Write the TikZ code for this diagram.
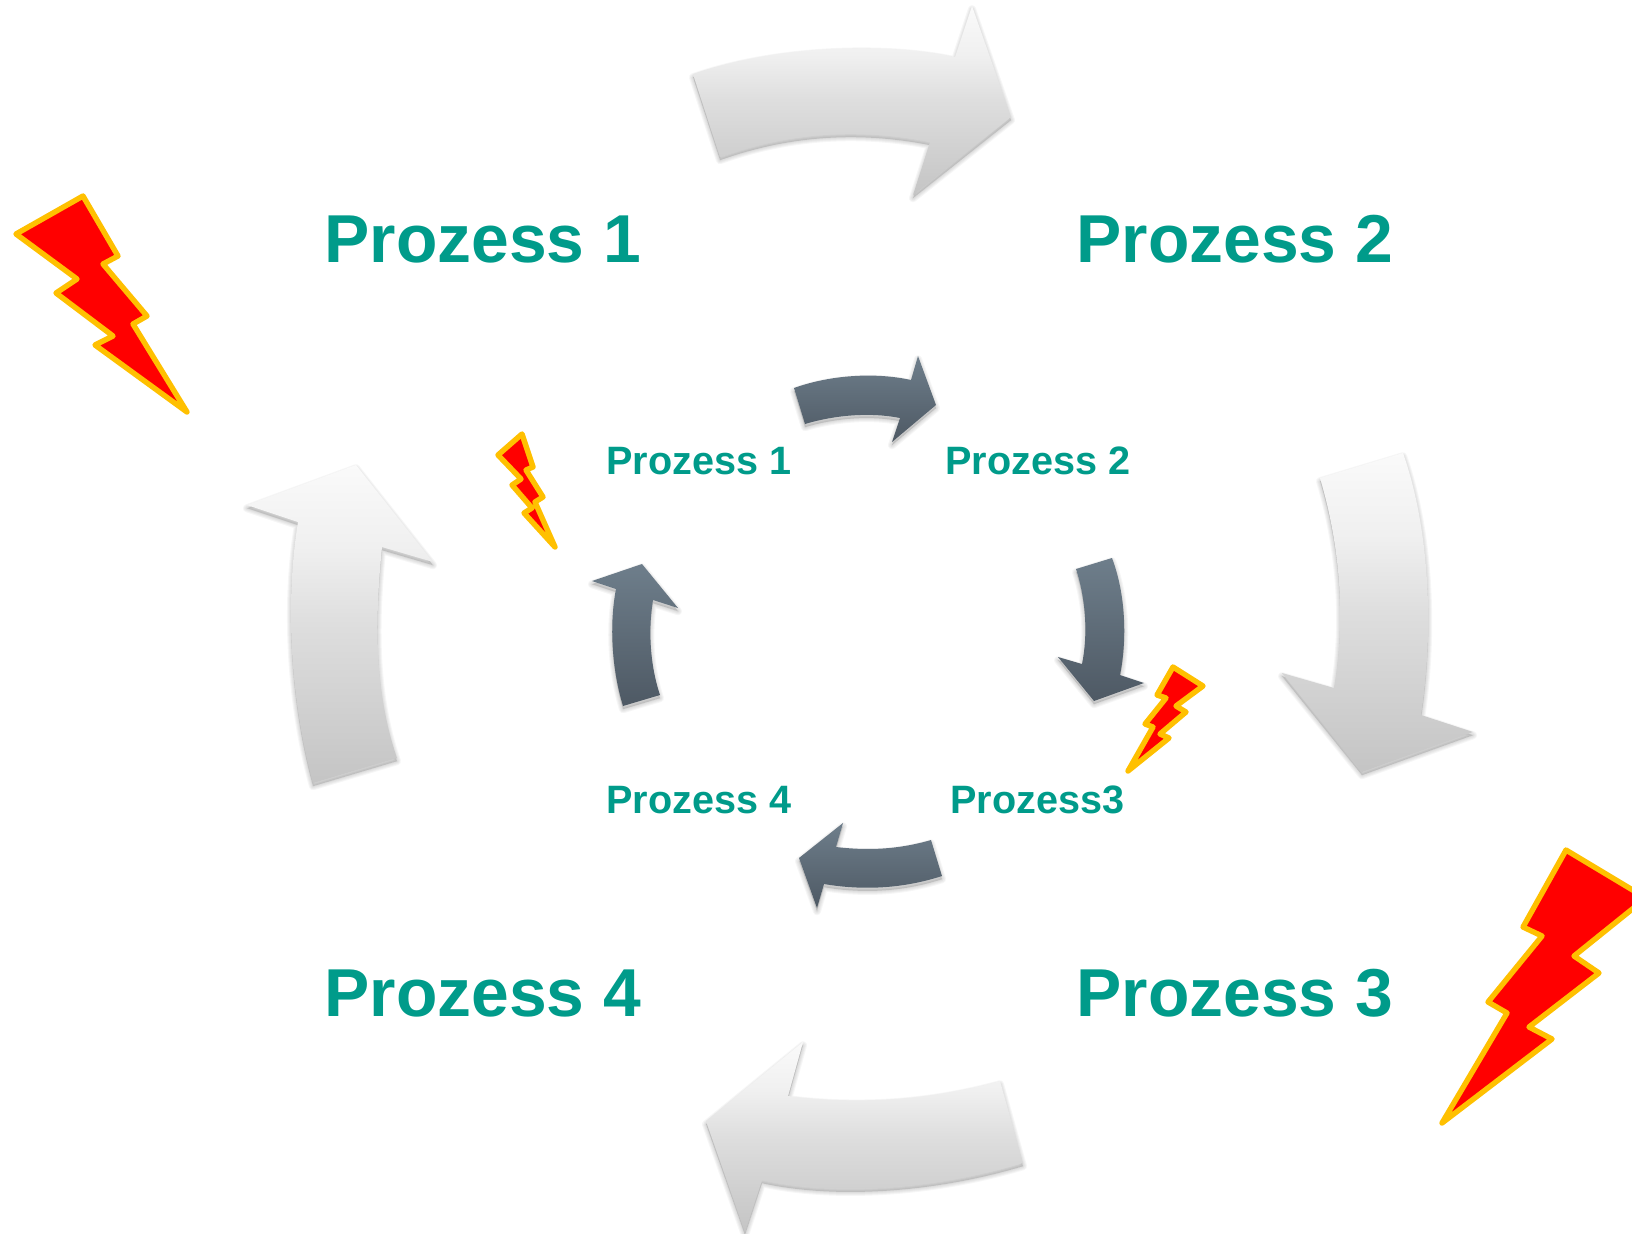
\documentclass[tikz,border=0pt]{standalone}
\usepackage{fontspec}
\setmainfont{Liberation Sans}
\definecolor{prozessgreen}{HTML}{009B8A}
\definecolor{boltorange}{HTML}{FFC000}
\definecolor{slatetop}{HTML}{6E7E8B}
\definecolor{slatebottom}{HTML}{4E5964}
\pgfdeclareverticalshading{lightshade}{100bp}{
  color(0bp)=(black!23); color(25bp)=(black!23); color(50bp)=(black!13);
  color(62bp)=(black!6); color(75bp)=(black!2); color(100bp)=(black!2)}
\tikzset{
  biglabel/.style={anchor=base west,inner sep=0pt,text=prozessgreen,font=\fontsize{33.9}{34}\selectfont\bfseries},
  smalllabel/.style={anchor=base west,inner sep=0pt,text=prozessgreen,font=\fontsize{19.8}{20}\selectfont\bfseries},
  bolt/.style={fill=red,draw=boltorange,line width=2.7pt,line join=round},
  lightarrow/.style={shading=lightshade},
  darkarrow/.style={top color=slatetop,bottom color=slatebottom},
}
% soft shadow first, then the shaded arrow
\newcommand{\softarrow}[1]{
  \foreach \w in {4,3,2,1}
    \filldraw[black,fill opacity=.035,draw opacity=.035,line width=\w pt,line join=round,yshift=-1.6pt] #1;
}
\begin{document}
\begin{tikzpicture}[x=0.5pt,y=-0.5pt]
\useasboundingbox (0,0) rectangle (1632,1233);

% big ring
\def\bigtop{(693,74) .. controls (770,47) and (880,41) .. (955,57) -- (972,6) -- (1011,117) -- (913,195) -- (930,142) .. controls (860,128) and (790,132) .. (720,157) -- cycle}
\def\bigright{(1320,478) -- (1403,453) .. controls (1430,530) and (1434,630) .. (1421,715) -- (1473,732) -- (1362,772) -- (1282,673) -- (1334,688) .. controls (1346,620) and (1340,545) .. (1320,478) -- cycle}
\def\bigbottom{(1000,1081) -- (1023,1163) .. controls (940,1188) and (840,1197) .. (762,1180) -- (745,1232) -- (706,1121) -- (803,1042) -- (788,1096) .. controls (860,1105) and (930,1100) .. (1000,1081) -- cycle}
\def\bigleft{(313,783) -- (397,758) .. controls (372,685) and (376,610) .. (382,547) -- (433,562) -- (356,465) -- (247,505) -- (298,522) .. controls (285,600) and (290,700) .. (313,783) -- cycle}
\softarrow{\bigtop}
\softarrow{\bigright}
\softarrow{\bigbottom}
\softarrow{\bigleft}
\shade[lightarrow] \bigtop;
\shade[lightarrow] \bigright;
\shade[lightarrow] \bigbottom;
\shade[lightarrow] \bigleft;

% small ring
\def\smalltop{(794,388) .. controls (830,375) and (875,372) .. (911,380) -- (918,356) -- (936,405) -- (892,442) -- (900,418) .. controls (870,412) and (835,415) .. (805,424) -- cycle}
\def\smallright{(1076,569) -- (1112,558) .. controls (1126,595) and (1127,640) .. (1120,675) -- (1144,683) -- (1094,701) -- (1058,657) -- (1082,664) .. controls (1088,635) and (1086,600) .. (1076,569) -- cycle}
\def\smallbottom{(931,840) -- (942,876) .. controls (905,888) and (865,891) .. (824,884) -- (817,908) -- (799,858) -- (843,823) -- (836,847) .. controls (870,851) and (900,849) .. (931,840) -- cycle}
\def\smallleft{(623,706) -- (660,695) .. controls (650,665) and (648,630) .. (653,600) -- (678,608) -- (642,564) -- (592,581) -- (616,589) .. controls (609,625) and (612,670) .. (623,706) -- cycle}
\softarrow{\smalltop}
\softarrow{\smallright}
\softarrow{\smallbottom}
\softarrow{\smallleft}
\shade[darkarrow] \smalltop;
\shade[darkarrow] \smallright;
\shade[darkarrow] \smallbottom;
\shade[darkarrow] \smallleft;

% lightning bolts
\draw[bolt] (83,196) -- (118,256) -- (103,264) -- (147,316) -- (133,324) -- (187,412) -- (95,345) -- (113,336) -- (56,293) -- (77,279) -- (16,234) -- cycle;
\draw[bolt] (1566,850) -- (1646,898) -- (1574,956) -- (1599,973) -- (1529,1027) -- (1552,1039) -- (1442,1123) -- (1507,1013) -- (1488,1002) -- (1542,936) -- (1523,927) -- cycle;
\draw[bolt] (1173,667) -- (1203,686) -- (1176,706) -- (1186,712) -- (1160,734) -- (1169,738) -- (1128,771) -- (1153,727) -- (1145,724) -- (1166,698) -- (1157,695) -- cycle;
\draw[bolt] (522,434) -- (533,467) -- (526,470) -- (543,497) -- (535,502) -- (555,547) -- (524,513) -- (532,508) -- (512,485) -- (521,479) -- (498,455) -- cycle;

\node[biglabel] (big1) at (324,262) {Prozess 1};
\node[biglabel] (big2) at (1076,262) {Prozess 2};
\node[biglabel] (big3) at (1076,1016) {Prozess 3};
\node[biglabel] (big4) at (324,1016) {Prozess 4};

\node[smalllabel] (small1) at (606,474) {Prozess 1};
\node[smalllabel] (small2) at (945,474) {Prozess 2};
\node[smalllabel] (small3) at (950,813) {Prozess3};
\node[smalllabel] (small4) at (606,813) {Prozess 4};
\end{tikzpicture}
\end{document}
